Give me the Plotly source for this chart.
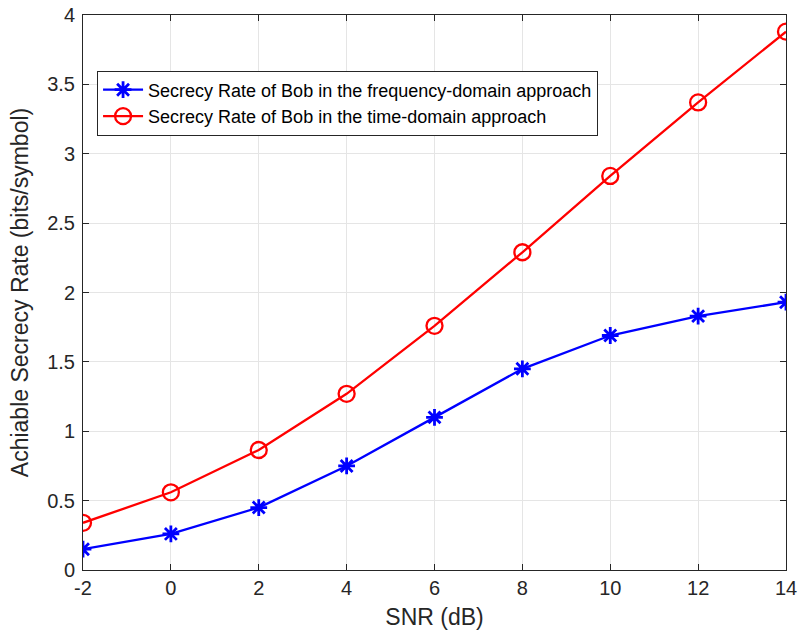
import plotly.graph_objects as go

snr = [-2, 0, 2, 4, 6, 8, 10, 12, 14]
freq_rate = [0.15, 0.26, 0.45, 0.75, 1.10, 1.45, 1.69, 1.83, 1.93]
time_rate = [0.34, 0.56, 0.865, 1.27, 1.76, 2.29, 2.84, 3.37, 3.88]
x_ticks = [-2, 0, 2, 4, 6, 8, 10, 12, 14]
x_tick_text = ["-2", "0", "2", "4", "6", "8", "10", "12", "14"]
y_ticks = [0, 0.5, 1, 1.5, 2, 2.5, 3, 3.5, 4]
y_tick_text = ["0", "0.5", "1", "1.5", "2", "2.5", "3", "3.5", "4"]

FONT = "Liberation Sans, Arial, Helvetica, sans-serif"
AX = "#262626"

fig = go.Figure()
fig.add_trace(go.Scatter(
    x=snr, y=freq_rate, mode="lines+markers",
    name="Secrecy Rate of Bob in the frequency-domain approach",
    line=dict(color="#0000ff", width=2.3),
    marker=dict(symbol="asterisk-open", size=14, color="#0000ff",
                line=dict(color="#0000ff", width=2.8)),
))
fig.add_trace(go.Scatter(
    x=snr, y=time_rate, mode="lines+markers",
    name="Secrecy Rate of Bob in the time-domain approach",
    line=dict(color="#ff0000", width=2.3),
    marker=dict(symbol="circle-open", size=16, color="#ff0000",
                line=dict(color="#ff0000", width=2.3)),
))

axis_common = dict(
    showgrid=True, gridcolor="#e5e5e5", gridwidth=1,
    showline=True, linecolor=AX, linewidth=1, mirror="ticks",
    ticks="inside", ticklen=6, tickcolor=AX, tickwidth=1,
    tickfont=dict(family=FONT, size=20, color=AX),
    zeroline=False, automargin=False,
)

fig.update_layout(
    width=802, height=644,
    margin=dict(l=83, r=16, t=15, b=74),
    paper_bgcolor="white", plot_bgcolor="white",
    font=dict(family=FONT, color=AX),
    xaxis=dict(range=[-2, 14], tickvals=x_ticks, ticktext=x_tick_text,
               title=dict(text="SNR (dB)", font=dict(family=FONT, size=23, color=AX), standoff=10),
               **axis_common),
    yaxis=dict(range=[0, 4], tickvals=y_ticks, ticktext=y_tick_text,
               ticklabelstandoff=3,
               title=dict(text="Achiable Secrecy Rate (bits/symbol)", font=dict(family=FONT, size=23, color=AX), standoff=12),
               **axis_common),
    legend=dict(x=0.02, y=0.9, xanchor="left", yanchor="top",
                bgcolor="white", bordercolor=AX, borderwidth=1,
                font=dict(family=FONT, size=18, color="#000000"),
                tracegroupgap=0, itemwidth=40),
    showlegend=True,
)

fig.write_html("out.html")
